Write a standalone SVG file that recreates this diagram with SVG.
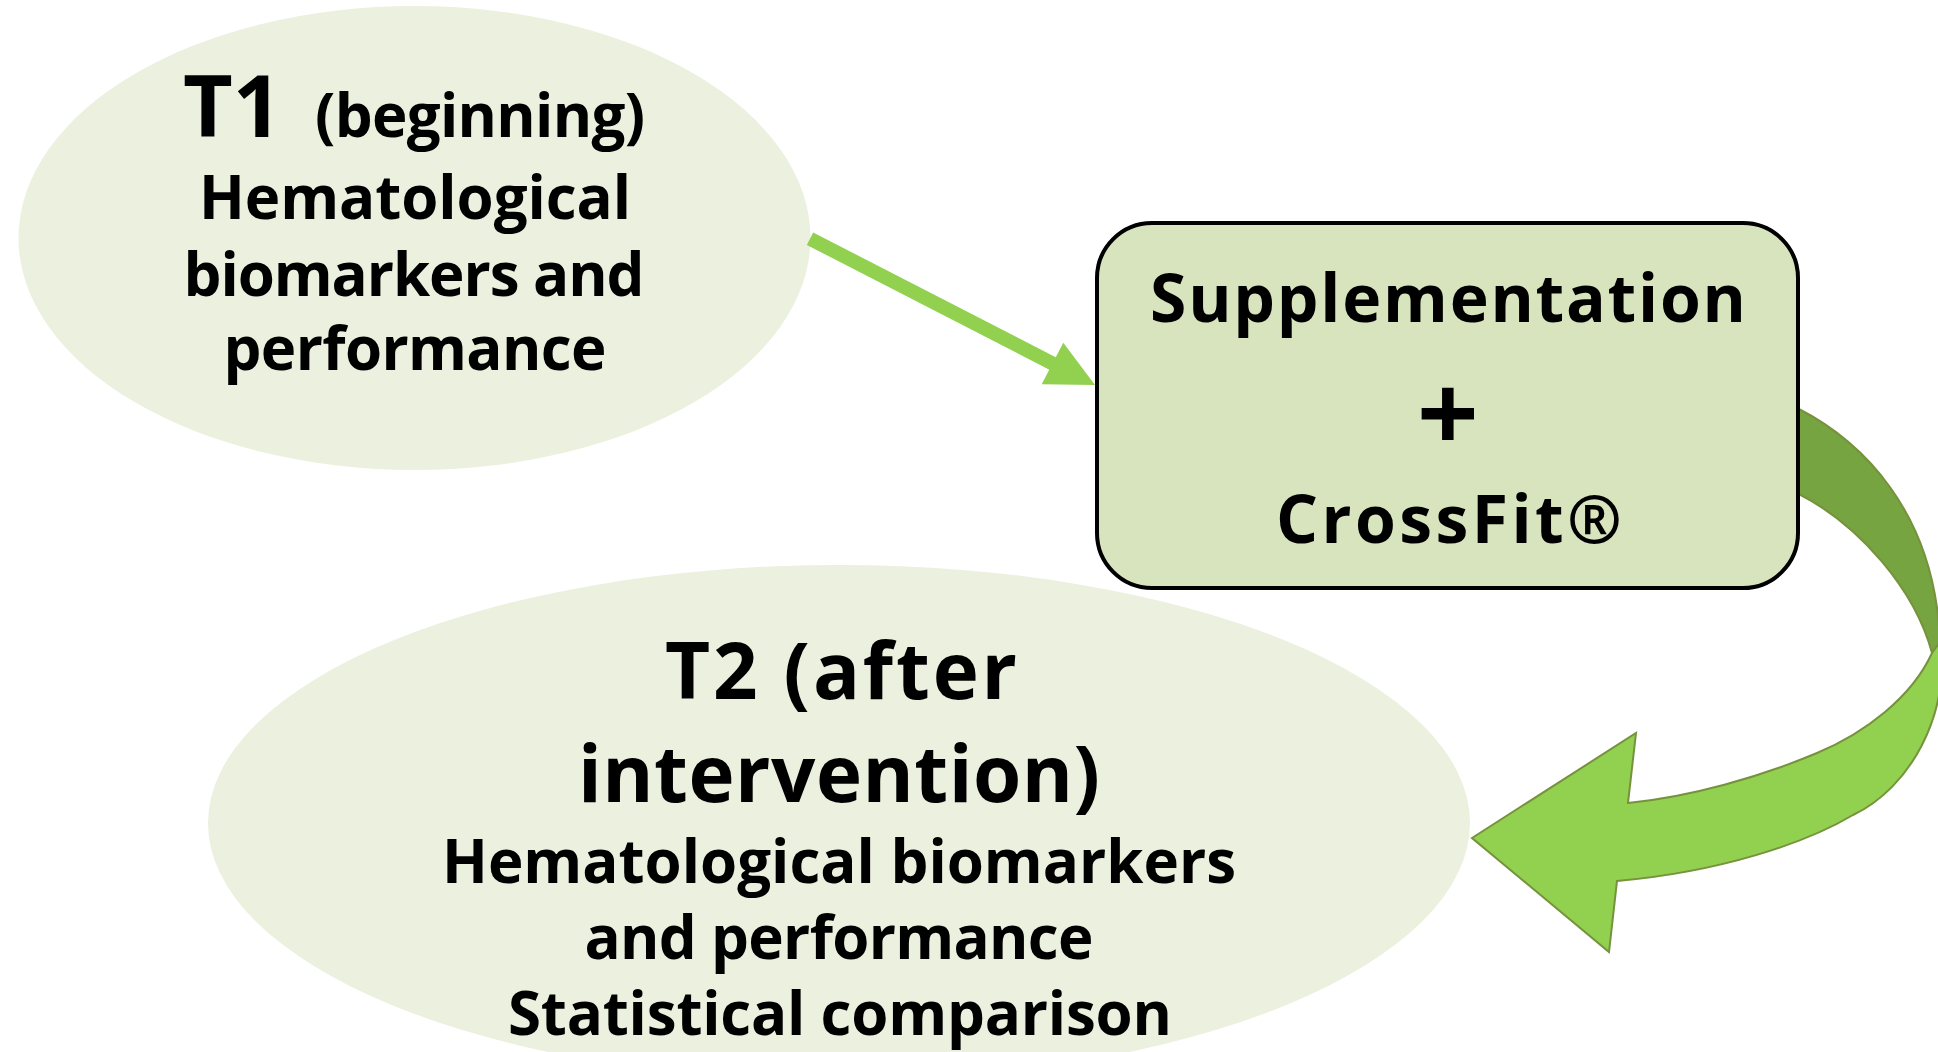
<svg xmlns="http://www.w3.org/2000/svg" width="1938" height="1052" viewBox="0 0 1938 1052">
  <style>
    .ell { fill: #ebf1de; }
    .box { fill: #d7e4bd; stroke: #000; stroke-width: 4; }
    .t { font-family: "Open Sans", "Liberation Sans", sans-serif; font-weight: 700; fill: #000; text-anchor: middle; }
    .conn-line { stroke: #92d050; stroke-width: 14; fill: none; }
    .conn-head { fill: #92d050; }
    .curve-back { fill: #76a440; stroke: #76923c; stroke-width: 2; stroke-linejoin: round; }
    .curve-front { fill: #92d050; stroke: #76923c; stroke-width: 2; stroke-linejoin: miter; }
  </style>
  <rect width="1938" height="1052" fill="#ffffff"/>

  <g id="node-t1">
    <ellipse class="ell" cx="414.5" cy="238" rx="396" ry="232"/>
    <text class="t" x="183" y="137" font-size="86" style="text-anchor:start">T1</text>
    <text class="t" x="315" y="137" font-size="60" style="text-anchor:start" textLength="330">(beginning)</text>
    <text class="t" x="415" y="219" font-size="60" textLength="432">Hematological</text>
    <text class="t" x="414" y="296" font-size="60" textLength="461">biomarkers and</text>
    <text class="t" x="415" y="370" font-size="60" textLength="383">performance</text>
  </g>

  <g id="node-t2">
    <ellipse class="ell" cx="839" cy="823" rx="631" ry="258"/>
    <text class="t" x="841" y="699" font-size="78" textLength="352">T2 (after</text>
    <text class="t" x="839" y="802" font-size="78" textLength="522">intervention)</text>
    <text class="t" x="839" y="883" font-size="60" textLength="794">Hematological biomarkers</text>
    <text class="t" x="839" y="959" font-size="60" textLength="509">and performance</text>
    <text class="t" x="840" y="1035" font-size="60" textLength="664">Statistical comparison</text>
  </g>

  <g id="connectors">
    <g id="conn-t1-to-intervention">
      <line class="conn-line" x1="810" y1="238.7" x2="1054" y2="364.2"/>
      <polygon class="conn-head" points="1095,385 1063.3,342.7 1041.7,384.3"/>
    </g>
    <g id="conn-intervention-to-t2">
      <path class="curve-back" d="M1797,408 C1860,440 1935,510 1940,642 L1932,653 C1915,590 1860,525 1797,493 Z"/>
      <path class="curve-front" d="M1932,653 L1940,642 C1950,715 1910,788 1853,815 C1806,843 1720,872 1617,881 L1609,952 L1472,838 L1636,733 L1628,803 C1690,797 1760,777 1817,753 C1865,733 1912,697 1932,653 Z"/>
    </g>
  </g>

  <g id="node-intervention">
    <rect class="box" x="1097" y="223" width="701" height="365" rx="55" ry="55"/>
    <text class="t" x="1448" y="322" font-size="66" textLength="596">Supplementation</text>
    <text class="t" x="1448" y="452" font-size="108">+</text>
    <text class="t" x="1449" y="543" font-size="66" textLength="346">CrossFit®</text>
  </g>
</svg>
